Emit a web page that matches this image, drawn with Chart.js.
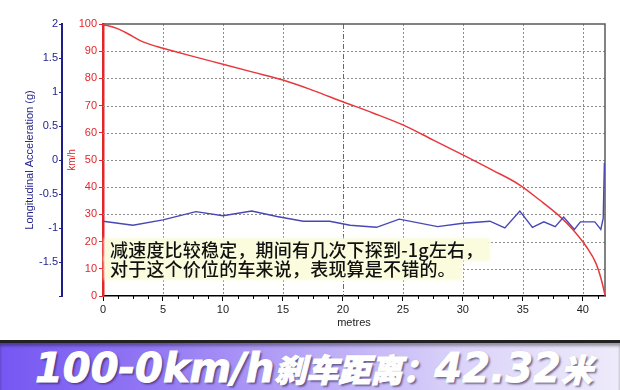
<!DOCTYPE html>
<html><head><meta charset="utf-8">
<script src="https://cdn.jsdelivr.net/npm/chart.js@4/dist/chart.umd.min.js"></script>
<style>
html,body{margin:0;padding:0;background:#fff;width:620px;height:390px;overflow:hidden;}
#wrap{position:absolute;left:0;top:0;width:620px;height:340px;}
#note{position:absolute;left:106px;top:240px;font-family:"Noto Sans CJK SC";font-weight:500;font-size:18px;line-height:19px;letter-spacing:0.2px;color:#111;}
#note div{width:fit-content;background:#fbfbdd;padding:0 4px;box-shadow:0 0 3px 2px #fbfbdd;}
#banner{position:absolute;left:0;top:340px;width:620px;height:47px;border-top:3px solid #222;
 background:linear-gradient(90deg,#7657f2 0%,#9378f4 25%,#b9a8f6 50%,#dcd4f9 75%,#eeebfb 100%);box-shadow:inset 0 3px 3px rgba(0,0,0,0.35);}
#btxt{position:absolute;left:35px;top:2px;white-space:nowrap;color:#fff;line-height:46px;-webkit-text-stroke:1px #fff;text-shadow:2px 2px 2px rgba(40,30,80,0.6),0 0 1px rgba(0,0,0,0.5);}
#btxt .l{font-family:"DejaVu Sans";font-weight:bold;font-style:italic;font-size:40px;}
#btxt .c{font-family:"Noto Sans CJK SC";font-weight:900;font-style:italic;font-size:32px;}
</style></head>
<body>
<div id="wrap"><canvas id="c" width="620" height="340"></canvas></div>
<div id="note"><div>减速度比较稳定，期间有几次下探到-1g左右，</div><div>对于这个价位的车来说，表现算是不错的。</div></div>
<div id="banner"><div id="btxt"><span class="l">100-0km/h</span><span class="c">刹车距离：</span><span class="l">42.32</span><span class="c">米</span></div></div>
<script>
// ---- data ----
const distSpeed = [0, 0.5, 1.15, 2, 3.1, 4.5, 5, 7.5, 10, 12.5, 15, 17.5, 20, 22.5, 25, 27.5, 30, 32.5, 34.75, 36.4, 38.1, 39.2, 40.3, 41.1, 41.55, 41.85];
const speedKmh  = [99.6, 99.3, 98.4, 96.6, 93.9, 91.7, 91.1, 88.1, 85.2, 82.3, 79.4, 75.6, 71.4, 67.3, 62.9, 57.4, 51.9, 46.2, 40.8, 35.3, 29.2, 24.3, 18.1, 12, 5.9, 0.4];
const distAccel = [0, 2.5, 5, 7.75, 10, 12.4, 14.5, 16.7, 18.9, 20.6, 22.8, 24.7, 27.9, 30, 32.25, 33.5, 34.75, 35.8, 36.75, 37.7, 38.4, 39.3, 39.8, 41, 41.5, 41.7, 41.8];
const accelG    = [-0.90, -0.96, -0.88, -0.76, -0.82, -0.75, -0.83, -0.90, -0.90, -0.96, -0.99, -0.87, -0.98, -0.93, -0.90, -1.00, -0.75, -0.99, -0.91, -0.98, -0.84, -1.02, -0.91, -0.91, -1.02, -0.86, -0.04];
const xRange = [0, 41.85];
const speedRange = [0, 100];
const accelRange = [-2, 2];
const markerDistance = 20;

const RED = '#e3262a', NAVY = '#1f1f8a';

const gridPlugin = {
  id: 'gridPlugin',
  beforeDatasetsDraw(chart) {
    const {ctx, chartArea: a} = chart;
    const xs = chart.scales.x, ys = chart.scales.y;
    ctx.save();
    ctx.lineWidth = 1;
    ctx.strokeStyle = '#8c8c8c';
    ctx.setLineDash([2, 2]);
    ys.ticks.forEach(t => {
      if (t.value <= speedRange[0] || t.value >= speedRange[1]) return;
      const y = Math.round(ys.getPixelForValue(t.value)) + 0.5;
      ctx.beginPath(); ctx.moveTo(a.left, y); ctx.lineTo(a.right, y); ctx.stroke();
    });
    xs.ticks.forEach(t => {
      if (t.value <= xRange[0] || t.value === markerDistance) return;
      const x = Math.round(xs.getPixelForValue(t.value)) + 0.5;
      ctx.beginPath(); ctx.moveTo(x, a.top); ctx.lineTo(x, a.bottom); ctx.stroke();
    });
    ctx.strokeStyle = '#d43a3a';
    ctx.setLineDash([5, 2, 1, 2]);
    const mx = Math.round(xs.getPixelForValue(markerDistance)) + 0.5;
    ctx.beginPath(); ctx.moveTo(mx, a.top); ctx.lineTo(mx, a.bottom); ctx.stroke();
    ctx.setLineDash([]);
    ctx.strokeStyle = '#5a5a5a';
    ctx.lineWidth = 1.5;
    ctx.beginPath(); ctx.moveTo(a.left, a.top); ctx.lineTo(a.right, a.top); ctx.lineTo(a.right, a.bottom); ctx.stroke();
    ctx.strokeStyle = '#000'; ctx.lineWidth = 1;
    for (let v = 1.25; v < xRange[1]; v += 1.25) {
      if (Math.abs(v % 5) < 1e-6) continue;
      const x = Math.round(xs.getPixelForValue(v)) + 0.5;
      ctx.beginPath(); ctx.moveTo(x, a.bottom); ctx.lineTo(x, a.bottom + 3); ctx.stroke();
    }
    ctx.restore();
  }
};

new Chart(document.getElementById('c'), {
  type: 'scatter',
  data: {
    datasets: [
      { label: 'Longitudinal Acceleration (g)', yAxisID: 'yA', showLine: true,
        data: distAccel.map((d, i) => ({x: d, y: accelG[i]})),
        borderColor: '#4747b5', borderWidth: 1.4, pointRadius: 0, tension: 0 },
      { label: 'km/h', yAxisID: 'y', showLine: true,
        data: distSpeed.map((d, i) => ({x: d, y: speedKmh[i]})),
        borderColor: '#e8383c', borderWidth: 1.5, pointRadius: 0, cubicInterpolationMode: 'monotone' }
    ]
  },
  options: {
    responsive: false, animation: false,
    layout: {padding: {left: 0, top: 24, right: 15, bottom: 0}},
    plugins: {legend: {display: false}, tooltip: {enabled: false}},
    scales: {
      x: {
        type: 'linear', position: 'bottom', min: xRange[0], max: xRange[1],
        afterFit: s => { s.height = 44; },
        ticks: {stepSize: 5, includeBounds: false, autoSkip: false, maxRotation: 0, padding: 2,
                color: '#222', font: {size: 11, family: 'Liberation Sans'}},
        grid: {drawOnChartArea: false, tickLength: 5, tickColor: '#000'},
        border: {color: '#000', width: 1.5},
        title: {display: true, text: 'metres', color: '#222', font: {size: 11, family: 'Liberation Sans'}, padding: {top: 0, bottom: 10}}
      },
      y: {
        position: 'left', weight: 0, min: speedRange[0], max: speedRange[1],
        afterFit: s => { s.width = 41; },
        ticks: {stepSize: 10, color: RED, font: {size: 11, family: 'Liberation Sans'}, padding: 2},
        grid: {drawOnChartArea: false, tickLength: 4, tickColor: RED},
        border: {color: RED, width: 2.5},
        title: {display: true, text: 'km/h', color: RED, font: {size: 10, family: 'Liberation Sans'}, padding: {top: 4, bottom: 0}}
      },
      yA: {
        position: 'left', weight: 1, min: accelRange[0], max: accelRange[1],
        afterFit: s => { s.width = 62; },
        ticks: {stepSize: 0.5, color: NAVY, font: {size: 11, family: 'Liberation Sans'}, padding: 1,
                callback: v => (v === accelRange[0] ? '' : v)},
        grid: {drawOnChartArea: false, tickLength: 3, tickColor: NAVY},
        border: {color: NAVY, width: 2},
        title: {display: true, text: 'Longitudinal Acceleration (g)', color: NAVY, font: {size: 11, family: 'Liberation Sans'}, padding: {top: 23, bottom: 0}}
      }
    }
  },
  plugins: [gridPlugin]
});
</script>
</body></html>
